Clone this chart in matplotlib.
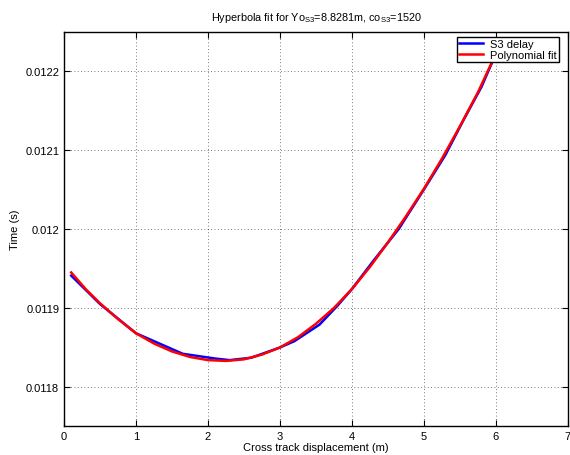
import matplotlib.pyplot as plt

plt.rcParams['font.family'] = ['Liberation Sans', 'DejaVu Sans']
plt.rcParams['mathtext.fontset'] = 'custom'
plt.rcParams['mathtext.rm'] = 'Liberation Sans'

# S3 delay (measured)
x_delay = [0.1, 0.5, 1.0, 1.3, 1.65, 2.1, 2.3, 2.6, 3.0, 3.2, 3.55, 3.8, 4.0,
           4.3, 4.65, 5.0, 5.3, 5.55, 5.8, 6.0]
y_delay = [0.011941, 0.011905, 0.011868, 0.011856, 0.011842, 0.011836, 0.011834,
           0.011837, 0.011850, 0.011858, 0.011879, 0.011903, 0.011924, 0.011960,
           0.012000, 0.012050, 0.012094, 0.012138, 0.012180, 0.012222]

# polynomial fit
x_fit = [0.1, 0.3, 0.5, 0.75, 1.0, 1.25, 1.5, 1.75, 2.0, 2.25, 2.5, 2.75, 3.0,
         3.25, 3.5, 3.75, 4.0, 4.25, 4.5, 4.75, 5.0, 5.25, 5.5, 5.75, 6.0]
y_fit = [0.011945, 0.011924, 0.011906, 0.011886, 0.011868, 0.011855, 0.011845,
         0.011838, 0.011834, 0.011833, 0.011835, 0.011841, 0.011850, 0.011863,
         0.011880, 0.011900, 0.011924, 0.011952, 0.011983, 0.012016, 0.012051,
         0.012089, 0.012130, 0.012173, 0.012222]

xticks = [0, 1, 2, 3, 4, 5, 6, 7]
yticks = [0.0118, 0.0119, 0.012, 0.0121, 0.0122]
ytick_labels = ['0.0118', '0.0119', '0.012', '0.0121', '0.0122']

fig = plt.figure(figsize=(5.7, 4.56), dpi=100)
ax = fig.add_axes([0.1123, 0.0636, 0.884, 0.864])

ax.plot(x_delay, y_delay, color='blue', linewidth=1.8, label='S3 delay')
ax.plot(x_fit, y_fit, color='red', linewidth=1.8, label='Polynomial fit')

ax.set_xlim(0, 7)
ax.set_ylim(0.0117506, 0.0122494)
ax.set_xticks(xticks)
ax.set_yticks(yticks)
ax.set_yticklabels(ytick_labels)
ax.tick_params(direction='in', top=True, right=True, labelsize=8, length=4)
ax.grid(True, linestyle=(0, (1, 3)), color='black', linewidth=0.6, alpha=0.7)
for s in ax.spines.values():
    s.set_linewidth(1.0)

ax.set_title(r'Hyperbola fit for Yo$_{\mathrm{S3}}$=8.8281m, co$_{\mathrm{S3}}$=1520',
             fontsize=7.8, pad=9)
ax.set_xlabel('Cross track displacement (m)', fontsize=8, labelpad=1)
ax.set_ylabel('Time (s)', fontsize=8)

leg = ax.legend(loc='upper right', bbox_to_anchor=(0.982, 0.988), fontsize=8,
                fancybox=False, framealpha=1, borderaxespad=0, handlelength=2.2,
                borderpad=0.2, labelspacing=0.1, handletextpad=0.6)
leg.get_frame().set_edgecolor('black')
leg.get_frame().set_linewidth(1.0)

fig.savefig('out.png', dpi=100)
